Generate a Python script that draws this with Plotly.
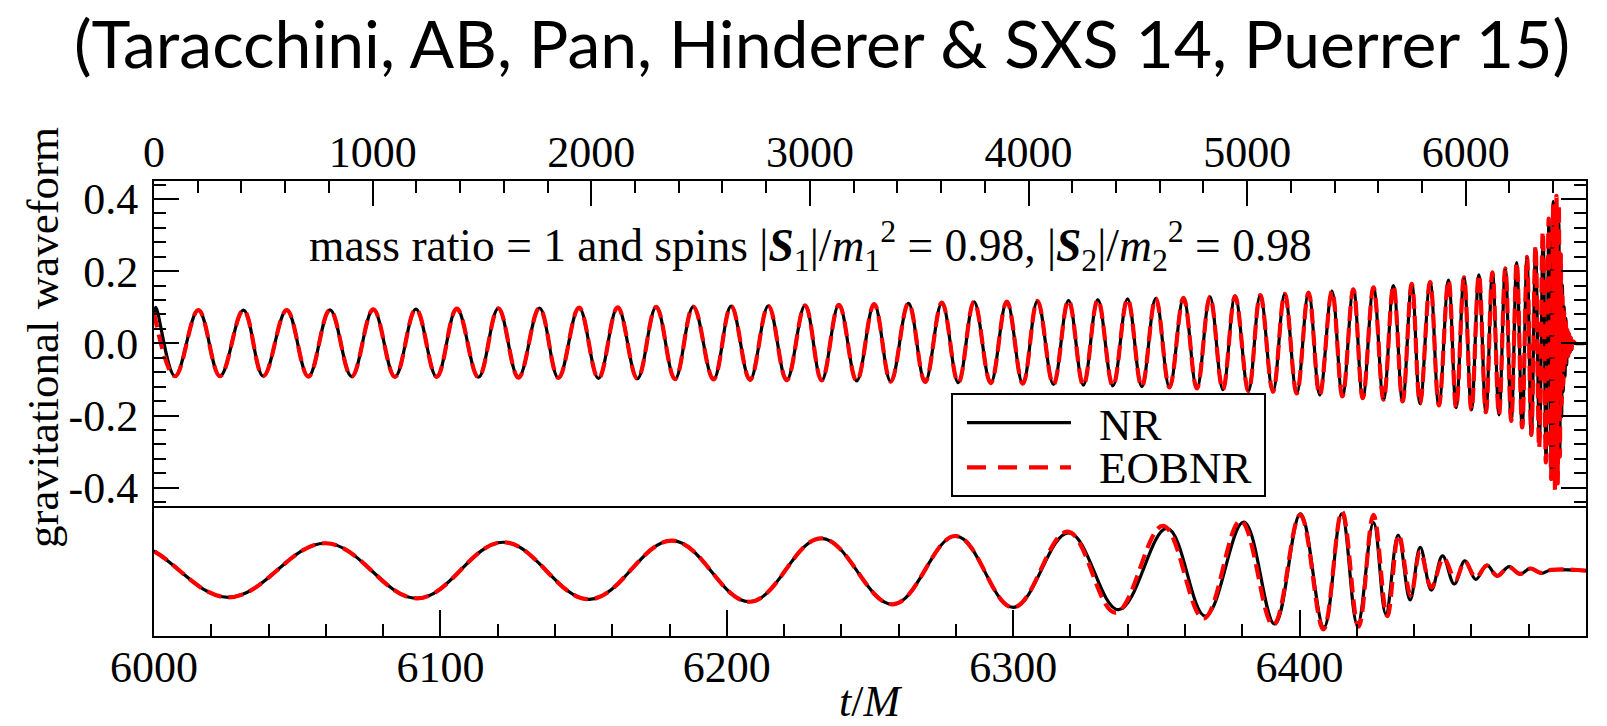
import plotly.graph_objects as go

W, H = 1607, 726

# Inspiral extrema common to NR and EOBNR (time t/M, strain h)
insp_t = [96, 203, 302, 409, 500, 607, 706, 805, 904, 1003, 1102, 1198, 1293, 1385,
          1484, 1575, 1667, 1763, 1850, 1944, 2033, 2121, 2211, 2297, 2383, 2467,
          2559, 2640, 2726, 2810, 2894, 2978, 3054, 3133, 3214, 3294, 3370, 3451,
          3527, 3604, 3679, 3751, 3827, 3901, 3974, 4041, 4114, 4183, 4251, 4317,
          4386, 4453, 4518, 4582, 4645, 4709, 4770, 4830, 4889, 4945, 5006, 5060,
          5118, 5172, 5227, 5281, 5332, 5388, 5436, 5486, 5529, 5578, 5624, 5669,
          5711, 5753, 5791, 5837, 5877, 5921, 5956, 5992, 6026, 6060, 6092, 6122,
          6152, 6181, 6208, 6233, 6258, 6280, 6300]
insp_h = [-0.091, 0.092, -0.091, 0.092, -0.091, 0.092, -0.092, 0.093, -0.092, 0.094,
          -0.093, 0.095, -0.093, 0.096, -0.094, 0.097, -0.095, 0.098, -0.096, 0.099,
          -0.097, 0.100, -0.098, 0.101, -0.099, 0.102, -0.100, 0.103, -0.101, 0.104,
          -0.102, 0.105, -0.103, 0.107, -0.104, 0.109, -0.106, 0.111, -0.107, 0.113,
          -0.109, 0.115, -0.110, 0.116, -0.112, 0.118, -0.114, 0.119, -0.116, 0.121,
          -0.118, 0.123, -0.120, 0.125, -0.122, 0.126, -0.125, 0.129, -0.128, 0.131,
          -0.132, 0.134, -0.134, 0.137, -0.139, 0.141, -0.143, 0.145, -0.147, 0.150,
          -0.152, 0.155, -0.156, 0.160, -0.161, 0.165, -0.167, 0.170, -0.172, 0.175,
          -0.178, 0.183, -0.184, 0.190, -0.191, 0.197, -0.198, 0.208, -0.215, 0.224,
          -0.233, 0.240, -0.254]

# Start of each run
nr_start_t = [0, 8]
nr_start_h = [0.064, 0.100]
eob_start_t = [0]
eob_start_h = [0.085]

# Merger and ringdown extrema
nr_merger_t = [6319.4, 6336.8, 6353.7, 6367.1, 6380.5, 6391.3, 6400.3, 6408.5, 6414.7,
               6420.2, 6425.8, 6430.1, 6434.4, 6438.6, 6442.1, 6446.0, 6449.9, 6454.0,
               6457.7, 6461.5, 6465.4, 6468.9, 6473.2, 6477.0, 6480.5, 6484.3, 6487.8,
               6500.0, 6550.0]
nr_merger_h = [0.262, -0.270, 0.293, -0.314, 0.337, -0.369, 0.393, -0.392, 0.393,
               -0.376, 0.333, -0.300, 0.247, -0.203, 0.162, -0.134, 0.102, -0.092,
               0.069, -0.060, 0.039, -0.037, 0.028, -0.025, 0.016, -0.018, 0.005,
               0.0, 0.0]
eob_merger_t = [6319.0, 6335.7, 6352.3, 6366.5, 6379.4, 6390.8, 6400.2, 6408.3, 6414.8,
                6420.6, 6425.8, 6430.6, 6434.6, 6438.8, 6442.1, 6446.0, 6450.3, 6454.4,
                6457.7, 6461.5, 6465.4, 6469.0, 6473.0, 6477.0, 6480.5, 6484.3, 6488.0,
                6500.5]
eob_merger_h = [0.270, -0.290, 0.310, -0.330, 0.346, -0.376, 0.386, -0.406, 0.409,
                -0.388, 0.386, -0.314, 0.247, -0.168, 0.132, -0.115, 0.086, -0.060,
                0.063, -0.046, 0.035, -0.035, 0.025, -0.022, 0.015, -0.015, 0.006,
                0.0]

# Axis ticks
top_tickvals = [0, 1000, 2000, 3000, 4000, 5000, 6000]
bottom_tickvals = [6000, 6100, 6200, 6300, 6400]
y_tickvals = [-0.4, -0.2, 0.0, 0.2, 0.4]
y_ticktext = ["-0.4", "-0.2", "0.0", "0.2", "0.4"]

nr_t = nr_start_t + insp_t + nr_merger_t
nr_h = nr_start_h + insp_h + nr_merger_h
eob_t = eob_start_t + insp_t + eob_merger_t
eob_h = eob_start_h + insp_h + eob_merger_h

SERIF = "Liberation Serif, Times New Roman, serif"


def fx(p):
    return p / W


def fy(p):
    return 1 - p / H


X0, X1 = 154, 1586
Y_TOP, Y_MID, Y_BOT = 181, 505.7, 635.7

fig = go.Figure()
series = [
    ("NR", nr_t, nr_h, dict(color="black", width=3.2)),
    ("EOBNR", eob_t, eob_h, dict(color="#ff0000", width=4.2, dash="15px,7px")),
]
for xa, ya in (("x", "y"), ("x2", "y2")):
    for name, t, h, ln in series:
        fig.add_trace(go.Scatter(
            x=t, y=h, mode="lines", name=name, showlegend=False,
            line=dict(shape="spline", smoothing=1.1, **ln),
            xaxis=xa, yaxis=ya, hoverinfo="skip",
        ))

common_axis = dict(showline=True, linecolor="black", linewidth=2, showgrid=False,
                   zeroline=False, tickcolor="black", tickwidth=2, automargin=False,
                   tickfont=dict(family=SERIF, size=44, color="black"))

fig.update_layout(
    template="none",
    width=W, height=H,
    margin=dict(l=0, r=0, t=0, b=0, autoexpand=False),
    paper_bgcolor="white", plot_bgcolor="white",
    showlegend=False,
    font=dict(family=SERIF, size=44, color="black"),
    xaxis=dict(domain=[fx(X0), fx(X1)], range=[0, 6550], side="top", anchor="y",
               tickmode="array", tickvals=top_tickvals,
               ticktext=[str(v) for v in top_tickvals],
               ticks="inside", ticklen=25, mirror=True, ticklabelstandoff=-6,
               minor=dict(tickmode="linear", tick0=0, dtick=200, ticks="inside",
                          ticklen=12, tickwidth=2, tickcolor="black", showgrid=False),
               **common_axis),
    yaxis=dict(domain=[fy(Y_MID), fy(Y_TOP)], range=[-0.45, 0.45], anchor="x",
               tickmode="array", tickvals=y_tickvals, ticktext=y_ticktext,
               ticks="inside", ticklen=25, mirror="ticks", ticklabelstandoff=5,
               minor=dict(tickmode="linear", tick0=0, dtick=0.04, ticks="inside",
                          ticklen=12, tickwidth=2, tickcolor="black", showgrid=False),
               **common_axis),
    xaxis2=dict(domain=[fx(X0), fx(X1)], range=[6000, 6500], side="bottom", anchor="y2",
                tickmode="array", tickvals=bottom_tickvals,
                ticktext=[str(v) for v in bottom_tickvals],
                ticks="inside", ticklen=26, mirror=False, ticklabelstandoff=-9,
                minor=dict(tickmode="linear", tick0=6000, dtick=20, ticks="inside",
                           ticklen=12, tickwidth=2, tickcolor="black", showgrid=False),
                **common_axis),
    yaxis2=dict(domain=[fy(Y_BOT), fy(Y_MID)], range=[-0.45, 0.45], anchor="x2",
                showticklabels=False, ticks="", mirror=True, **common_axis),
)

annotations = [
    dict(text="(Taracchini, AB, Pan, Hinderer & SXS 14, Puerrer 15)",
         x=fx(822), y=fy(43), xanchor="center", yanchor="middle",
         font=dict(family="Lato, sans-serif", size=66, color="black")),
    dict(text="gravitational waveform", textangle=-90,
         x=fx(43), y=fy(338), xanchor="center", yanchor="middle",
         font=dict(family=SERIF, size=45, color="black")),
    dict(text="mass ratio = 1 and spins |<b><i>S</i></b><sub>1</sub>|/<i>m</i><sub>1</sub><sup>2</sup>"
              " = 0.98, |<b><i>S</i></b><sub>2</sub>|/<i>m</i><sub>2</sub><sup>2</sup> = 0.98",
         x=fx(810), y=fy(246), xanchor="center", yanchor="middle",
         font=dict(family=SERIF, size=45.5, color="black")),
    dict(text="<i>t</i>/<i>M</i>", x=fx(870), y=fy(701), xanchor="center", yanchor="middle",
         font=dict(family=SERIF, size=44, color="black")),
    dict(text="NR", x=fx(1097), y=fy(425), xanchor="left", yanchor="middle",
         font=dict(family=SERIF, size=45, color="black")),
    dict(text="EOBNR", x=fx(1097), y=fy(468), xanchor="left", yanchor="middle",
         font=dict(family=SERIF, size=45, color="black")),
]
for a in annotations:
    a.update(xref="paper", yref="paper", showarrow=False)
fig.update_layout(annotations=annotations)

# Legend frame and line samples
fig.update_layout(shapes=[
    dict(type="rect", xref="paper", yref="paper", x0=fx(952), x1=fx(1265),
         y0=fy(496), y1=fy(394), line=dict(color="black", width=2),
         fillcolor="white", layer="above"),
    dict(type="line", xref="paper", yref="paper", x0=fx(967), x1=fx(1071),
         y0=fy(422.7), y1=fy(422.7), line=dict(color="black", width=3.2), layer="above"),
    dict(type="line", xref="paper", yref="paper", x0=fx(967), x1=fx(1071),
         y0=fy(467.3), y1=fy(467.3), line=dict(color="#ff0000", width=4.2, dash="19px,12px"),
         layer="above"),
])

fig.write_html("out.html")
